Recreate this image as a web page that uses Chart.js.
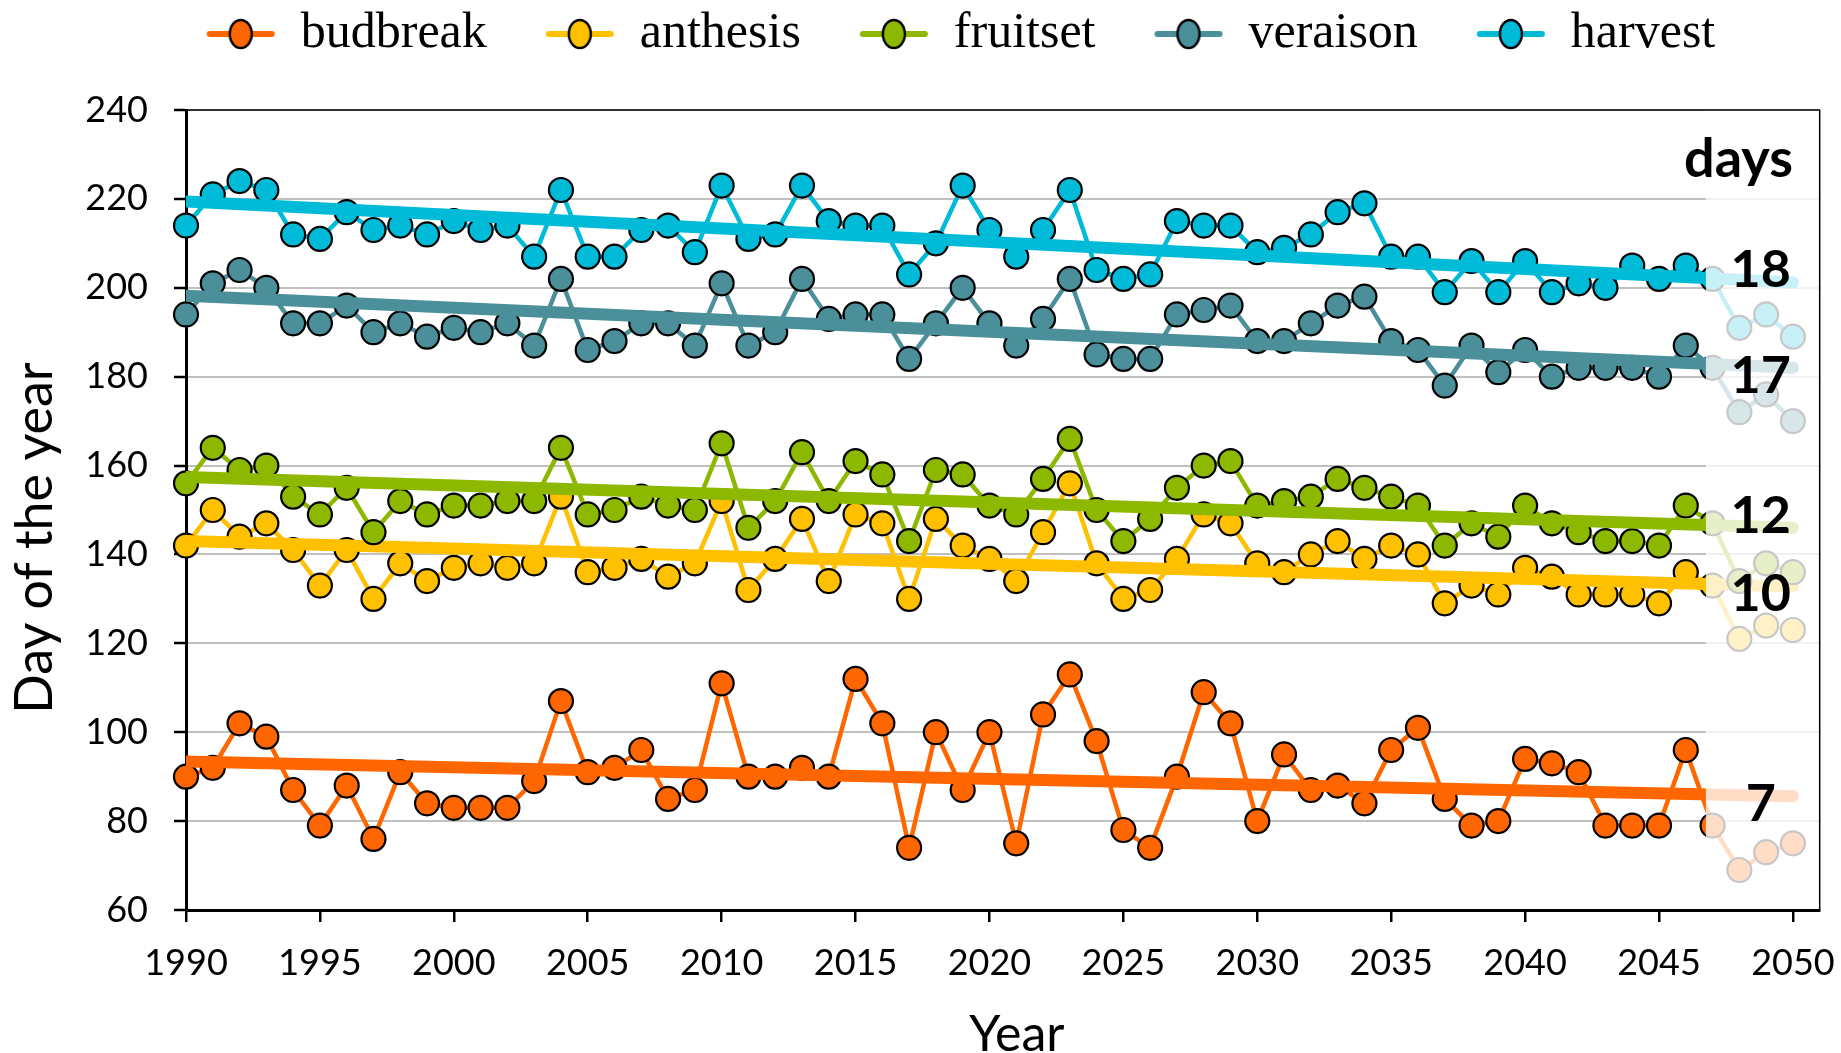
<!DOCTYPE html>
<html>
<head>
<meta charset="utf-8">
<script src="https://cdn.jsdelivr.net/npm/chart.js@4"></script>
<style>
html,body{margin:0;padding:0;background:#fff;}
#wrap{width:1841px;height:1053px;}
</style>
</head>
<body>
<div id="wrap"><canvas id="c" width="1841" height="1053"></canvas></div>
<script>
// ---------- data ----------
const years = [1990,1991,1992,1993,1994,1995,1996,1997,1998,1999,
  2000,2001,2002,2003,2004,2005,2006,2007,2008,2009,
  2010,2011,2012,2013,2014,2015,2016,2017,2018,2019,
  2020,2021,2022,2023,2024,2025,2026,2027,2028,2029,
  2030,2031,2032,2033,2034,2035,2036,2037,2038,2039,
  2040,2041,2042,2043,2044,2045,2046,2047,2048,2049,2050];

const phases = ['budbreak','anthesis','fruitset','veraison','harvest'];

const budbreak = [90,92,102,99,87,79,88,76,91,84,83,83,83,89,107,
  91,92,96,85,87,111,90,90,92,90,112,102,74,100,87,100,75,104,113,98,78,74,
  90,109,102,80,95,87,88,84,96,101,85,79,80,94,93,91,79,79,79,96,79,
  69,73,75];

const anthesis = [142,150,144,147,141,133,141,130,138,134,137,138,137,138,153,
  136,137,139,135,138,152,132,139,148,134,149,147,130,148,142,139,134,145,156,138,130,132,
  139,149,147,138,136,140,143,139,142,140,129,133,131,137,135,131,131,131,129,136,133,
  121,124,123];

const fruitset = [156,164,159,160,153,149,155,145,152,149,151,151,152,152,164,
  149,150,153,151,150,165,146,152,163,152,161,158,143,159,158,151,149,157,166,150,143,148,
  155,160,161,151,152,153,157,155,153,151,142,147,144,151,147,145,143,143,142,151,147,
  134,138,136];

const veraison = [194,201,204,200,192,192,196,190,192,189,191,190,192,187,202,
  186,188,192,192,187,201,187,190,202,193,194,194,184,192,200,192,187,193,202,185,184,184,
  194,195,196,188,188,192,196,198,188,186,178,187,181,186,180,182,182,182,180,187,182,
  172,176,170];

const harvest = [214,221,224,222,212,211,217,213,214,212,215,213,214,207,222,
  207,207,213,214,208,223,211,212,223,215,214,214,203,210,223,213,207,213,222,204,202,203,
  215,214,214,208,209,212,217,219,207,207,199,206,199,206,199,201,200,205,202,205,202,
  191,194,189];

// linear trend end points (1990 and 2050)
const trendYears = [1990, 2050];
const trendStart = [93.4, 143.0, 157.4, 198.2, 219.4];
const trendEnd   = [85.6, 132.8, 146.0, 182.0, 201.2];

// change in days over the period
const daysHeader = 'days';
const daysChange = ['7','10','12','17','18'];

const yTickValues = [60,80,100,120,140,160,180,200,220,240];

// ---------- styling ----------
const seriesValues = [budbreak, anthesis, fruitset, veraison, harvest];
const colors = ['#ff6600','#ffc000','#8cb800','#4a8f99','#00bbd8'];

function markerCanvas(color){
  const c = document.createElement('canvas');
  c.width = 70; c.height = 34;
  const g = c.getContext('2d');
  g.strokeStyle = color; g.lineWidth = 6; g.lineCap = 'round';
  g.beginPath(); g.moveTo(4,17); g.lineTo(66,17); g.stroke();
  g.beginPath(); g.ellipse(35,17,11,14,0,0,Math.PI*2);
  g.fillStyle = color; g.fill();
  g.lineWidth = 2.4; g.strokeStyle = '#000'; g.stroke();
  return c;
}
const markers = colors.map(markerCanvas);

const datasets = [];
phases.forEach((name,i)=>{
  datasets.push({
    label: name,
    data: years.map((yr,k)=>({x: yr, y: seriesValues[i][k]})),
    borderColor: colors[i], backgroundColor: colors[i],
    borderWidth: 4.5, tension: 0,
    pointRadius: 12, pointHoverRadius: 12,
    pointBorderWidth: 2.2, pointBorderColor: '#000', pointBackgroundColor: colors[i],
    clip: false,
    order: 10 - 2*i
  });
});
phases.forEach((name,i)=>{
  datasets.push({
    label: name + ' trend',
    data: [{x: trendYears[0], y: trendStart[i]}, {x: trendYears[1], y: trendEnd[i]}],
    borderColor: colors[i], backgroundColor: colors[i],
    borderWidth: 12, borderCapStyle: 'round',
    pointRadius: 0, pointHoverRadius: 0,
    clip: {left: 0, top: false, right: false, bottom: false},
    order: 9 - 2*i
  });
});

function shifted(scale, method, dx, dy){
  const o = scale[method];
  scale[method] = function(){ const c = this.ctx; c.save(); c.translate(dx, dy); o.apply(this, arguments); c.restore(); };
}

const layoutTweaks = {
  id: 'layoutTweaks',
  beforeLayout(chart){
    const L = chart.legend;
    if (L && !L._fitPatched){
      const f = L.fit;
      L.fit = function(){ f.call(this); this.height = 110; };
      L._fitPatched = true;
    }
  },
  afterLayout(chart){
    const L = chart.legend;
    if (L){
      const lp = L.options.labels.padding;
      const fs = L.options.labels.font.size;
      const top = 34 - (lp + fs/2);
      const h = L.height;
      L.top = top; L.bottom = top + h;
      L.left = 80; L.right = 1841;
    }
    const ys = chart.scales.y, xs = chart.scales.x;
    if (ys && !ys._tp){ shifted(ys, 'drawTitle', 0, 28); ys._tp = true; }
    if (xs && !xs._tp){ shifted(xs, 'drawTitle', 14, 12); shifted(xs, 'drawLabels', 0, 14); xs._tp = true; }
  }
};

const fadeAndLabels = {
  id: 'fadeAndLabels',
  afterDatasetsDraw(chart, args, opts){
    const {ctx, chartArea: a, scales: {x}} = chart;
    const x0 = x.getPixelForValue(opts.fadeFrom);
    ctx.save();
    ctx.fillStyle = 'rgba(255,255,255,0.78)';
    ctx.fillRect(x0, a.top, a.right - x0, a.bottom - a.top - 2);
    ctx.restore();
  },
  afterDraw(chart, args, opts){
    const {ctx, chartArea: a, scales: {x, y}} = chart;
    ctx.save();
    ctx.strokeStyle = '#000'; ctx.lineWidth = 1.5;
    ctx.beginPath();
    ctx.moveTo(a.left, a.top); ctx.lineTo(a.right, a.top); ctx.lineTo(a.right, a.bottom);
    ctx.stroke();
    ctx.fillStyle = '#000';
    ctx.font = 'bold 54px Lato';
    ctx.textAlign = 'right'; ctx.textBaseline = 'alphabetic';
    ctx.fillText(daysHeader, x.getPixelForValue(opts.headerX), y.getPixelForValue(opts.headerY));
    ctx.font = 'bold 52px Lato';
    ctx.textAlign = 'center'; ctx.textBaseline = 'middle';
    daysChange.forEach((t,i)=>{
      ctx.fillText(t, x.getPixelForValue(opts.numX), y.getPixelForValue(opts.numY[i]));
    });
    ctx.restore();
  }
};

new Chart(document.getElementById('c'), {
  type: 'line',
  data: { datasets },
  plugins: [layoutTweaks, fadeAndLabels],
  options: {
    responsive: false,
    animation: false,
    events: [],
    devicePixelRatio: 1,
    layout: { autoPadding: false, padding: { left: 0, right: 20, top: 0, bottom: 0 } },
    plugins: {
      tooltip: { enabled: false },
      legend: {
        position: 'top', align: 'center',
        labels: {
          usePointStyle: true, pointStyleWidth: 70,
          font: { family: 'Liberation Serif', size: 50 },
          color: '#000', padding: 58,
          generateLabels: () => phases.map((p,i)=>({
            text: p, pointStyle: markers[i], fillStyle: colors[i], strokeStyle: colors[i],
            lineWidth: 0, hidden: false, datasetIndex: i, fontColor: '#000'
          }))
        }
      },
      fadeAndLabels: {
        fadeFrom: 2046.75,
        headerX: 2050, headerY: 225,
        numX: 2048.8,
        numY: [83.8, 131, 148.6, 180, 203.9]
      }
    },
    scales: {
      x: {
        type: 'linear', min: 1990, max: 2051,
        ticks: {
          stepSize: 5, includeBounds: false, autoSkip: false, maxRotation: 0,
          font: { family: 'Lato', size: 36 }, color: '#000', padding: 6,
          callback: v => String(v)
        },
        grid: { drawOnChartArea: false, drawTicks: true, tickLength: 12, tickColor: '#000', tickWidth: 2.5, color: '#000', lineWidth: 2.5 },
        border: { display: true, color: '#000', width: 3 },
        title: { display: true, text: 'Year', font: { family: 'Lato', size: 50 }, color: '#000', padding: { top: 0, bottom: 0 } },
        afterFit: s => { s.height = 143; }
      },
      y: {
        min: 60, max: 240,
        afterBuildTicks: s => { s.ticks = yTickValues.map(v => ({ value: v })); },
        ticks: { font: { family: 'Lato', size: 36 }, color: '#000', padding: 26, callback: v => String(v) },
        grid: { color: '#c0c0c0', lineWidth: 2, tickLength: 12, tickColor: '#000', tickWidth: 2.5 },
        border: { color: '#000', width: 3 },
        title: { display: true, text: 'Day of the year', font: { family: 'Lato', size: 52 }, color: '#000', padding: { top: 4, bottom: 0 } },
        afterFit: s => { s.width = 186; }
      }
    }
  }
});
</script>
</body>
</html>
